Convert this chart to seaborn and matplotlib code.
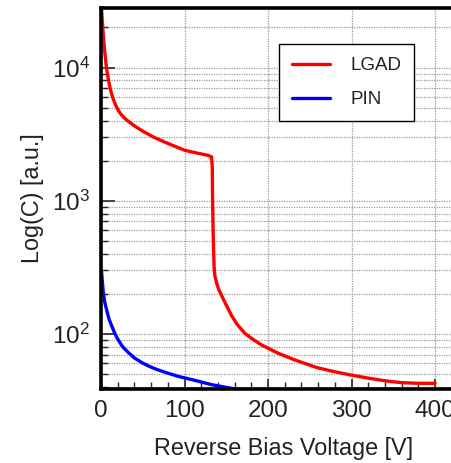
import numpy as np
import pandas as pd
import matplotlib
matplotlib.use("Agg")
import matplotlib.pyplot as plt
import seaborn as sns
from matplotlib.ticker import LogLocator, MultipleLocator, NullFormatter

# ---- data ----
lgad_v = [0, 0.8, 2.4, 4, 6.5, 9, 11.5, 14, 16.8, 20, 24, 28, 32.7, 40, 50, 62.6, 75, 88, 100.5,
          115, 128.4, 132.4, 133.2, 133.6, 134.2, 134.8, 135.5, 136.5, 138.5, 141, 146.3, 156.4, 163,
          172.3, 182, 192.3, 212.1, 232, 258, 278, 298, 318, 338, 350, 362, 380, 400]
lgad_c = [32000, 26500, 18760, 14070, 9990, 8000, 6750, 5950, 5350, 4850, 4450, 4180, 3950, 3650,
          3330, 3010, 2780, 2570, 2390, 2280, 2190, 2135, 1800, 1000, 600, 420, 308, 270, 240, 215,
          183, 137, 118, 101, 91, 82.6, 71.6, 63.8, 56, 52.3, 49.3, 46.8, 44.7, 43.7, 43, 42.6, 42.6]
pin_v = [0, 0.8, 1.8, 2.8, 4.5, 6.8, 9.5, 12.8, 16.5, 20.7, 26, 32.7, 40, 48.7, 58, 68.6, 80, 92.5,
         112.5, 132.5, 152, 158]
pin_c = [300, 286, 240, 202, 173, 151, 130, 115, 101, 90, 80, 72.5, 66, 61, 57, 53.6, 50.8, 48,
         44.8, 41.6, 39.5, 38.8]
series = ["LGAD", "PIN"]
colors = ["#ff0000", "#0000ff"]
x_label = "Reverse Bias Voltage [V]"
y_label = "Log(C) [a.u.]"

df = pd.DataFrame({
    "V": lgad_v + pin_v,
    "C": lgad_c + pin_c,
    "device": ["LGAD"] * len(lgad_v) + ["PIN"] * len(pin_v),
})

sns.set_style("ticks")
plt.rcParams["font.family"] = ["Liberation Sans", "DejaVu Sans"]
plt.rcParams["mathtext.default"] = "regular"

fig = plt.figure(figsize=(4.51, 4.63), dpi=100)
ax = fig.add_axes([101 / 451, 74 / 463, 355 / 451, 381 / 463])

sns.lineplot(data=df, x="V", y="C", hue="device", hue_order=series,
             palette=dict(zip(series, colors)), linewidth=2.4, ax=ax, sort=False,
             estimator=None, solid_joinstyle="round", solid_capstyle="round")

ax.set_yscale("log")
ax.set_xlim(0, 425)
ax.set_ylim(38.6, 28000)

ax.xaxis.set_major_locator(MultipleLocator(100))
ax.xaxis.set_minor_locator(MultipleLocator(20))
ax.yaxis.set_major_locator(LogLocator(base=10))
ax.yaxis.set_minor_locator(LogLocator(base=10, subs=np.arange(2, 10)))
ax.yaxis.set_minor_formatter(NullFormatter())

ax.grid(True, which="major", axis="x", color="#9a9a9a", linestyle=(0, (1, 1)), linewidth=0.9)
ax.grid(True, which="both", axis="y", color="#9a9a9a", linestyle=(0, (1, 1)), linewidth=0.9)
ax.set_axisbelow(True)

ax.tick_params(which="major", direction="in", length=10, width=1.2, labelsize=17.5, pad=8,
               labelcolor="#222222")
ax.tick_params(which="minor", direction="in", length=5, width=1.0)
ax.tick_params(axis="x", which="major", length=7)

for s in ax.spines.values():
    s.set_linewidth(2.6)
    s.set_color("black")

ax.set_xlabel(x_label, fontsize=16.8, color="#222222")
ax.set_ylabel(y_label, fontsize=16.8, color="#222222")
ax.xaxis.set_label_coords((284 - 101) / 355, -(448 - 389) / 381, transform=ax.transAxes)
ax.xaxis.label.set_va("center")
ax.yaxis.set_label_coords(-(101 - 32) / 355, 0.5, transform=ax.transAxes)
ax.yaxis.label.set_va("center")

handles, labels = ax.get_legend_handles_labels()
leg = ax.legend(handles, labels, loc="upper left", bbox_to_anchor=(279 / 451, 1 - 44 / 463),
                bbox_transform=fig.transFigure, fontsize=13.5, frameon=True, fancybox=False,
                edgecolor="black", framealpha=1, handlelength=2.0, handletextpad=1.1,
                borderpad=0.7, labelspacing=0.9, borderaxespad=0)
leg.get_frame().set_linewidth(1.0)
for line in leg.get_lines():
    line.set_linewidth(2.4)
for t in leg.get_texts():
    t.set_color("#222222")

fig.savefig("out.png", dpi=100)
